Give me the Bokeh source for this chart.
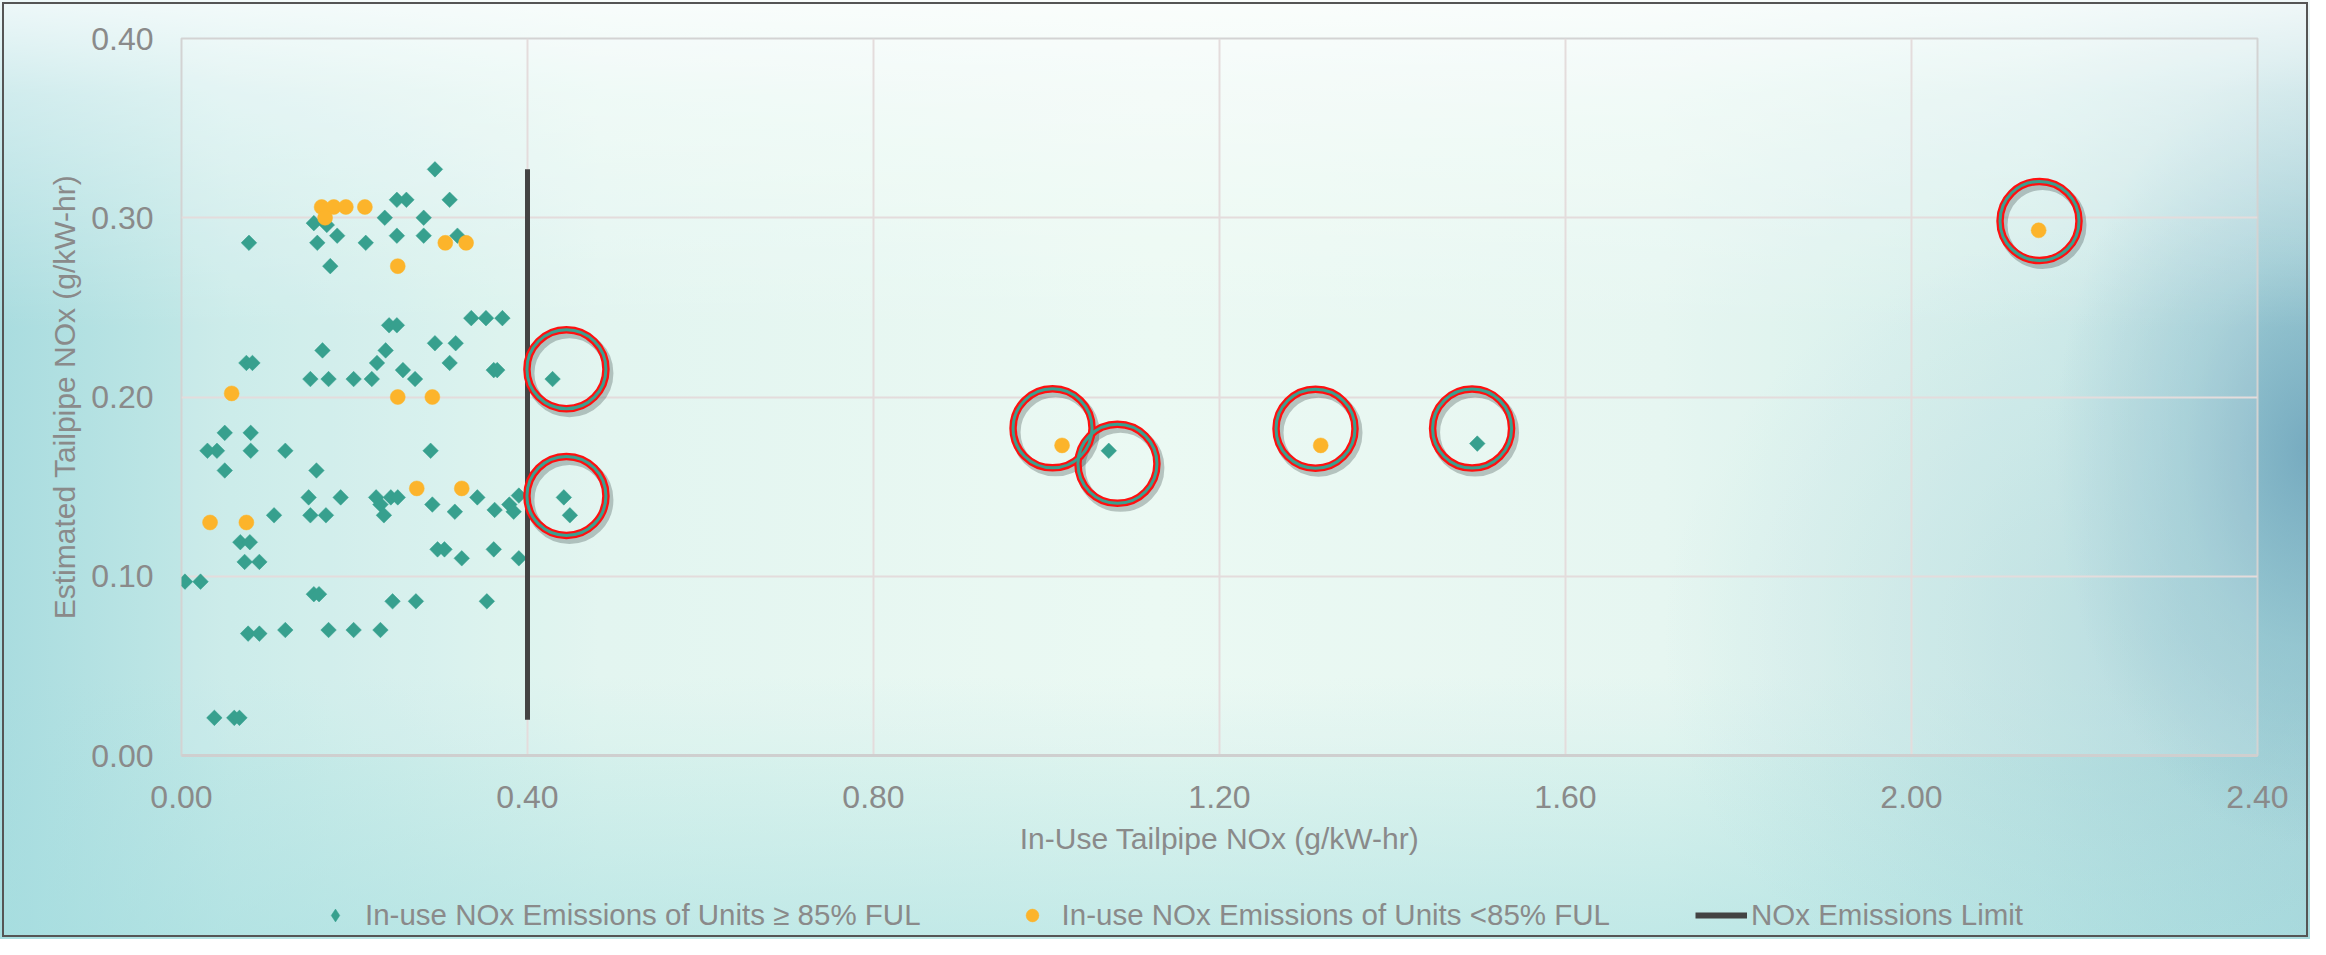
import numpy as np
from bokeh.plotting import figure
from bokeh.layouts import column
from bokeh.models import Range1d, FixedTicker, Legend, LegendItem
from bokeh.embed import file_html
from bokeh.resources import INLINE

# ---------------- data ----------------
full_x = [0.293, 0.249, 0.260, 0.310, 0.235, 0.280, 0.153, 0.168, 0.249, 0.280, 0.319, 0.180,
          0.078, 0.157, 0.213, 0.172,
          0.240, 0.249, 0.335, 0.352, 0.371, 0.163, 0.236, 0.293, 0.317, 0.226, 0.075, 0.082,
          0.310, 0.361, 0.365, 0.256, 0.149, 0.170, 0.199, 0.220, 0.270, 0.429,
          0.050, 0.080, 0.030, 0.041, 0.080, 0.120, 0.288, 0.050, 0.156,
          0.147, 0.184, 0.225, 0.242, 0.250, 0.342, 0.390, 0.230, 0.290, 0.379,
          0.316, 0.362, 0.384, 0.107, 0.149, 0.167, 0.234, 0.442, 0.449,
          0.068, 0.079, 0.073, 0.090, 0.296, 0.304, 0.361, 0.324, 0.390,
          0.004, 0.022, 0.153, 0.159, 0.244, 0.271, 0.353,
          0.077, 0.090, 0.120, 0.170, 0.199, 0.230, 0.038, 0.061, 0.067,
          1.072, 1.498]
full_y = [0.327, 0.310, 0.310, 0.310, 0.300, 0.300, 0.297, 0.296, 0.290, 0.290, 0.290, 0.290,
          0.286, 0.286, 0.286, 0.273,
          0.240, 0.240, 0.244, 0.244, 0.244, 0.226, 0.226, 0.230, 0.230, 0.219, 0.219, 0.219,
          0.219, 0.215, 0.215, 0.215, 0.210, 0.210, 0.210, 0.210, 0.210, 0.210,
          0.180, 0.180, 0.170, 0.170, 0.170, 0.170, 0.170, 0.159, 0.159,
          0.144, 0.144, 0.144, 0.144, 0.144, 0.144, 0.145, 0.140, 0.140, 0.140,
          0.136, 0.137, 0.136, 0.134, 0.134, 0.134, 0.134, 0.144, 0.134,
          0.119, 0.119, 0.108, 0.108, 0.115, 0.115, 0.115, 0.110, 0.110,
          0.097, 0.097, 0.090, 0.090, 0.086, 0.086, 0.086,
          0.068, 0.068, 0.070, 0.070, 0.070, 0.070, 0.021, 0.021, 0.021,
          0.170, 0.174]

partial_x = [0.162, 0.176, 0.190, 0.212, 0.166, 0.305, 0.329, 0.250, 0.058, 0.250, 0.290,
             0.272, 0.324, 0.033, 0.075, 1.018, 1.317, 2.147]
partial_y = [0.306, 0.306, 0.306, 0.306, 0.300, 0.286, 0.286, 0.273, 0.202, 0.200, 0.200,
             0.149, 0.149, 0.130, 0.130, 0.173, 0.173, 0.293]

limit_x = [0.40, 0.40]
limit_y = [0.020, 0.327]

# annotation rings drawn around the highlighted units
highlight_x = [0.445, 0.445, 1.007, 1.082, 1.311, 1.492, 2.148]
highlight_y = [0.2155, 0.1448, 0.1825, 0.1627, 0.1823, 0.1824, 0.2982]

x_ticks = [0.0, 0.4, 0.8, 1.2, 1.6, 2.0, 2.4]
x_tick_labels = ["0.00", "0.40", "0.80", "1.20", "1.60", "2.00", "2.40"]
y_ticks = [0.0, 0.1, 0.2, 0.3, 0.4]
y_tick_labels = ["0.00", "0.10", "0.20", "0.30", "0.40"]

x_title = "In-Use Tailpipe NOx (g/kW-hr)"
y_title = "Estimated Tailpipe NOx (g/kW-hr)"
label_full = "In-use NOx Emissions of Units \u2265 85% FUL"
label_partial = "In-use NOx Emissions of Units <85% FUL"
label_limit = "NOx Emissions Limit"

# ---------------- styles ----------------
FONT = "Liberation Sans"
TEXT_GRAY = "#8a8a8a"
TEAL = "#37a08e"
ORANGE = "#fcb42b"
LIMIT = "#434343"

W, H = 2310, 939
H1 = 870                       # main chart height; the legend strip takes the rest
FL, FR, FT, FB = 181, 2257, 38, 755   # frame edges in page pixels
p = figure(width=W, height=H1, output_backend="svg", toolbar_location=None,
           x_range=Range1d(0, 2.4), y_range=Range1d(0, 0.4),
           min_border_left=FL, min_border_right=W - FR,
           min_border_top=FT, min_border_bottom=H1 - FB)
FRAME_W, FRAME_H = FR - FL, FB - FT

p.border_fill_color = None
p.background_fill_color = "white"
p.background_fill_alpha = 0.15
p.outline_line_color = "#d3d3d3"
p.outline_line_width = 2

for ax in (p.xaxis, p.yaxis):
    ax.axis_line_color = None
    ax.major_tick_line_color = None
    ax.minor_tick_line_color = None
    ax.major_label_text_font = FONT
    ax.major_label_text_font_size = "32px"
    ax.major_label_text_color = TEXT_GRAY
    ax.axis_label_text_font = FONT
    ax.axis_label_text_font_size = "30px"
    ax.axis_label_text_font_style = "normal"
    ax.axis_label_text_color = TEXT_GRAY

p.xaxis.ticker = FixedTicker(ticks=x_ticks)
p.yaxis.ticker = FixedTicker(ticks=y_ticks)
p.xaxis.major_label_overrides = {t: s for t, s in zip(x_ticks, x_tick_labels)}
p.yaxis.major_label_overrides = {t: s for t, s in zip(y_ticks, y_tick_labels)}
p.xaxis.axis_label = x_title
p.yaxis.axis_label = y_title
p.xaxis.major_label_standoff = 24
p.yaxis.major_label_standoff = 22
p.xaxis.axis_label_standoff = 11
p.yaxis.axis_label_standoff = 7
p.xaxis.axis_line_color = "#cfcfcf"
p.xaxis.axis_line_width = 3

p.xgrid.ticker = FixedTicker(ticks=x_ticks)
p.ygrid.ticker = FixedTicker(ticks=y_ticks)
for g in (p.xgrid, p.ygrid):
    g.grid_line_color = "#e4dcdc"
    g.grid_line_width = 2

full_style = dict(marker="square", angle=np.pi / 4, size=11,
                  fill_color=TEAL, line_color=TEAL, line_width=0.5)
partial_style = dict(marker="circle", size=15,
                     fill_color=ORANGE, line_color=ORANGE, line_width=0.5)
limit_style = dict(line_color=LIMIT, line_width=5)

p.scatter(full_x, full_y, **full_style)
p.scatter(partial_x, partial_y, **partial_style)
p.line(limit_x, limit_y, **limit_style)

# highlight rings (shadow, red ring, teal core)
dx = 3 * 2.4 / FRAME_W
dy = -4 * 0.4 / FRAME_H
p.scatter([x + dx for x in highlight_x], [y + dy for y in highlight_y], marker="circle", size=79,
          fill_color=None, line_color="#2a3a3a", line_alpha=0.28, line_width=9)
p.scatter(highlight_x, highlight_y, marker="circle", size=79,
          fill_color=None, line_color="#ff1010", line_width=7.5)
p.scatter(highlight_x, highlight_y, marker="circle", size=79,
          fill_color=None, line_color="#3aa08f", line_width=3)

# ---------------- legend strip ----------------
H2 = H - H1
q = figure(width=W, height=H2, output_backend="svg", toolbar_location=None,
           x_range=Range1d(0, 1), y_range=Range1d(0, 1),
           x_axis_type=None, y_axis_type=None, min_border=0)
q.border_fill_color = None
q.background_fill_color = None
q.outline_line_color = None
q.xgrid.visible = False
q.ygrid.visible = False
# legend-only proxies (a single off-range point so the legend can style its glyphs)
g_full = q.scatter([np.nan], [np.nan], marker="diamond", size=11,
                   fill_color=TEAL, line_color=TEAL, line_width=0.5)
g_partial = q.scatter([np.nan], [np.nan], **partial_style)
g_limit = q.line([np.nan, np.nan], [np.nan, np.nan], line_color=LIMIT, line_width=6)

legend = Legend(items=[LegendItem(label=label_full, renderers=[g_full]),
                       LegendItem(label=label_partial, renderers=[g_partial]),
                       LegendItem(label=label_limit, renderers=[g_limit])],
                orientation="horizontal", location=(309 - FL, 7),
                glyph_width=52, glyph_height=32, label_standoff=4, spacing=85,
                padding=0, margin=0,
                background_fill_alpha=0, border_line_alpha=0,
                label_text_font=FONT, label_text_font_size="29.5px",
                label_text_color=TEXT_GRAY)
q.add_layout(legend, "center")

page = column(p, q, spacing=0)
page.styles = {
    "background":
        "linear-gradient(to bottom, rgba(255,255,255,0.80) 0%, rgba(255,255,255,0.45) 10%, rgba(255,255,255,0.0) 35%),"
        "radial-gradient(ellipse 11% 42% at 100% 48%, rgba(105,160,185,0.80) 0%, rgba(130,185,200,0.5) 50%, rgba(200,235,232,0) 100%),"
        "radial-gradient(ellipse 22% 45% at 94% 68%, rgba(140,195,205,0.40) 0%, rgba(150,200,210,0) 100%),"
        "linear-gradient(to top, rgba(165,222,224,0.55) 0%, rgba(165,222,224,0) 28%),"
        "linear-gradient(to right, #a9dcdf 0%, #c4e9e7 10%, #def4ee 26%, #e8f8f1 50%, #e2f5ef 72%, #cdebe8 88%, #b2d9dd 100%)",
    "outline": "2px solid #555555",
    "outline-offset": "-4px",
}

open("out.html", "w").write(file_html(page, INLINE))
